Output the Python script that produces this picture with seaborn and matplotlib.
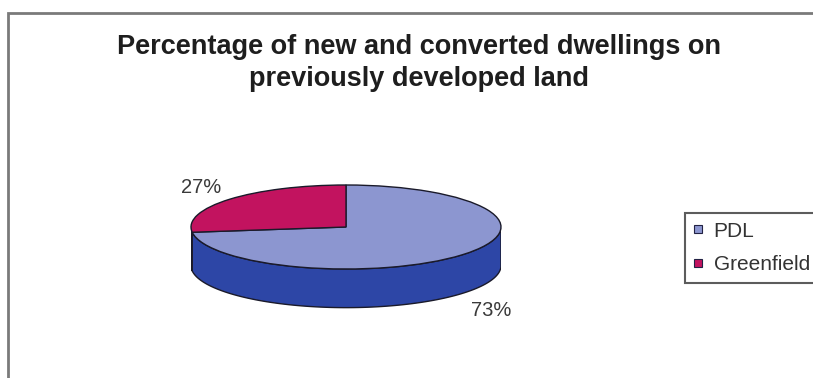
import numpy as np
import matplotlib
matplotlib.use("Agg")
import matplotlib.pyplot as plt
from matplotlib.patches import Polygon, Rectangle
from matplotlib.lines import Line2D
import seaborn as sns

categories = ["PDL", "Greenfield"]
values = [73, 27]
top_colors = ["#8C96D0", "#C2135F"]
side_colors = ["#2D46A6", "#7E0C3E"]
title = "Percentage of new and converted dwellings on\npreviously developed land"

sns.set_theme(style="white")
plt.rcParams["font.family"] = ["Liberation Sans", "DejaVu Sans"]

W, H = 813, 378
fig = plt.figure(figsize=(W / 100, H / 100), dpi=100)
fig.patch.set_facecolor("white")

# chart frame (extends off right/bottom)
fig.patches.append(Rectangle((8 / W, -0.2), 1.2, 1.2 - 13 / H,
                             transform=fig.transFigure, fill=False,
                             edgecolor="#7a7a7a", lw=2))

# axes: x in [-1,1] -> 310 px, y unit = 42 px
unit_y = 42
cx, cy = 346, H - 227
ylo, yhi = -2.6, 1.5
ax = fig.add_axes([(cx - 155) / W, (cy + ylo * unit_y) / H,
                   310 / W, (yhi - ylo) * unit_y / H])

depth = 0.92
total = sum(values)
fracs = [v / total for v in values]

# wedge angles (clockwise from 90)
angles = []
start = 90.0
for f in fracs:
    end = start - f * 360
    angles.append((end, start))
    start = end

# side faces (visible front part: angles 180..360)
for (a0, a1), col in zip(angles, side_colors):
    for shift in (0, 360, -360):
        lo = max(a0 + shift, 180)
        hi = min(a1 + shift, 360)
        if hi > lo:
            t = np.radians(np.linspace(lo, hi, 100))
            xs = np.cos(t)
            ys = np.sin(t)
            pts = np.concatenate([np.column_stack([xs, ys]),
                                  np.column_stack([xs[::-1], ys[::-1] - depth])])
            ax.add_patch(Polygon(pts, closed=True, facecolor=col,
                                 edgecolor="#1a1a2a", lw=1, zorder=1))

# top face
wedges, _ = ax.pie(values, colors=top_colors, startangle=90, counterclock=False,
                   radius=1, center=(0, 0), frame=True,
                   wedgeprops=dict(edgecolor="#1a1a2a", linewidth=1))
for w in wedges:
    w.set_zorder(2)
ax.set_xlim(-1, 1)
ax.set_ylim(ylo, yhi)
ax.set_aspect("auto")
ax.axis("off")

# percentage labels
for (a0, a1), v in zip(angles, values):
    mid = np.radians((a0 + a1) / 2)
    r = 1.2
    x = r * np.cos(mid) * 1.04
    y = r * np.sin(mid)
    if y < 0:
        y -= depth + 0.27
    else:
        y += 0.15
    ax.text(x, y, f"{v}%", ha="center", va="center", fontsize=14.5,
            color="#3a3a3a", zorder=3, clip_on=False)

# title
fig.text(419 / W, 1 - 63 / H, title, ha="center", va="center",
         fontsize=19.5, fontweight="bold", color="#1e1e1e", linespacing=1.32)

# legend
handles = [Line2D([0], [0], marker="s", linestyle="none", markersize=6,
                  markerfacecolor=c, markeredgecolor="#222244", markeredgewidth=0.8)
           for c in top_colors]
leg = fig.legend(handles, categories, loc="upper left",
                 bbox_to_anchor=(685 / W, 1 - 213 / H), fontsize=15,
                 frameon=True, fancybox=False, handlelength=0.45,
                 handletextpad=0.5, borderpad=0.42, labelspacing=0.68,
                 borderaxespad=0)
leg.get_frame().set_edgecolor("#333333")
leg.get_frame().set_linewidth(1.5)
for t in leg.get_texts():
    t.set_color("#333333")

fig.savefig("out.png", dpi=100, facecolor="white")
